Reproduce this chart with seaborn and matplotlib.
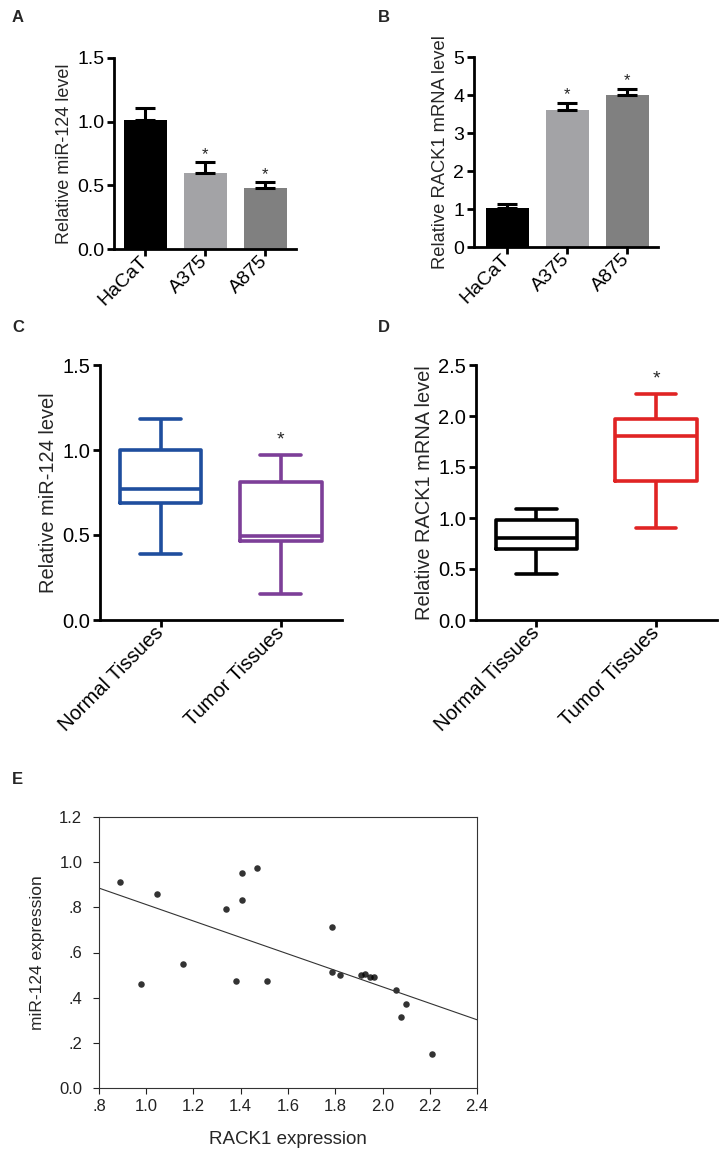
import matplotlib
matplotlib.use("Agg")
import matplotlib.pyplot as plt
import numpy as np
import pandas as pd
import seaborn as sns

# ---- data ----
cell_lines = ["HaCaT", "A375", "A875"]
bar_colors = ["#000000", "#a3a3a6", "#808080"]

mir124_cells = [1.01, 0.60, 0.48]
mir124_cells_err = [0.10, 0.08, 0.045]

rack1_cells = [1.03, 3.61, 4.01]
rack1_cells_err = [0.11, 0.19, 0.16]

tissues = ["Normal Tissues", "Tumor Tissues"]
# five-number summaries (min, Q1, median, Q3, max)
mir124_normal = [0.39, 0.686, 0.771, 1.0, 1.184]
mir124_tumor = [0.151, 0.467, 0.497, 0.814, 0.971]
rack1_normal = [0.451, 0.693, 0.80, 0.98, 1.085]
rack1_tumor = [0.899, 1.366, 1.804, 1.97, 2.216]

# scatter (tumor samples)
rack1_expr = [0.889, 0.977, 1.047, 1.157, 1.338, 1.379, 1.407, 1.407, 1.468, 1.509,
              1.787, 1.787, 1.818, 1.909, 1.928, 1.948, 1.962, 2.058, 2.078, 2.099, 2.21]
mir124_expr = [0.912, 0.462, 0.861, 0.551, 0.793, 0.472, 0.950, 0.831, 0.972, 0.472,
               0.711, 0.512, 0.501, 0.501, 0.503, 0.493, 0.493, 0.434, 0.314, 0.374, 0.15]

e_xticks = [0.8, 1.0, 1.2, 1.4, 1.6, 1.8, 2.0, 2.2, 2.4]
e_xticklabels = [".8", "1.0", "1.2", "1.4", "1.6", "1.8", "2.0", "2.2", "2.4"]
e_yticks = [0.0, 0.2, 0.4, 0.6, 0.8, 1.0, 1.2]
e_yticklabels = ["0.0", ".2", ".4", ".6", ".8", "1.0", "1.2"]

sns.set_style("ticks")
plt.rcParams["font.family"] = ["Liberation Sans", "DejaVu Sans"]

W, H = 719, 1155
fig = plt.figure(figsize=(W / 100, H / 100), dpi=100)


def box(l, t, r, b):
    return [l / W, 1 - b / H, (r - l) / W, (b - t) / H]


def prism_axes(ax, fs):
    sns.despine(ax=ax)
    for s in ["left", "bottom"]:
        ax.spines[s].set_linewidth(2.0)
        ax.spines[s].set_color("black")
    ax.tick_params(axis="both", width=2.0, length=5, labelsize=fs, colors="black", pad=2)
    for lab in ax.get_xticklabels():
        lab.set_rotation(45)
        lab.set_ha("right")
        lab.set_va("center")
        lab.set_rotation_mode("anchor")


def bar_panel(ax, vals, errs, ylim, yticks, fmt, ylabel, fs_lab, fs_tick):
    df = pd.DataFrame({"cell": cell_lines, "val": vals})
    sns.barplot(data=df, x="cell", y="val", hue="cell", palette=bar_colors,
                legend=False, width=0.72, linewidth=0, errorbar=None, ax=ax)
    pos = np.arange(len(cell_lines))
    ax.errorbar(pos, vals, yerr=[np.zeros(len(vals)), errs], fmt="none",
                ecolor="black", elinewidth=2.2, capsize=7, capthick=2.2, zorder=1)
    for i in (1, 2):
        ax.annotate("*", xy=(pos[i], vals[i] + errs[i]), xytext=(0, 0),
                    textcoords="offset points", ha="center", va="bottom", fontsize=12)
    ax.set_ylim(*ylim)
    ax.set_yticks(yticks)
    ax.set_yticklabels([fmt.format(v) for v in yticks])
    ax.set_xlim(-0.52, 2.51)
    ax.set_xlabel("")
    ax.set_ylabel(ylabel, fontsize=fs_lab, labelpad=3)
    prism_axes(ax, fs_tick)


def box_panel(ax, normal, tumor, colors, ylim, yticks, ylabel, fs_lab, fs_tick):
    df = pd.DataFrame({"group": [tissues[0]] * 5 + [tissues[1]] * 5,
                       "val": normal + tumor})
    sns.boxplot(data=df, x="group", y="val", hue="group", palette=colors,
                fill=False, whis=(0, 100), width=0.68, linewidth=2.6,
                legend=False, ax=ax)
    ax.annotate("*", xy=(1, max(tumor)), xytext=(0, 5), textcoords="offset points",
                ha="center", va="bottom", fontsize=14)
    ax.set_ylim(*ylim)
    ax.set_yticks(yticks)
    ax.set_yticklabels(["{:.1f}".format(v) for v in yticks])
    ax.set_xlim(-0.505, 1.51)
    ax.set_xlabel("")
    ax.set_ylabel(ylabel, fontsize=fs_lab, labelpad=3)
    prism_axes(ax, fs_tick)


# A
axA = fig.add_axes(box(114, 58, 296, 249))
bar_panel(axA, mir124_cells, mir124_cells_err, (0, 1.5), [0, 0.5, 1.0, 1.5], "{:.1f}",
          "Relative miR-124 level", 13, 14)

# B
axB = fig.add_axes(box(474, 57, 658, 247))
bar_panel(axB, rack1_cells, rack1_cells_err, (0, 5), [0, 1, 2, 3, 4, 5], "{:.0f}",
          "Relative RACK1 mRNA level", 13.2, 14)
axB.set_xlim(-0.555, 2.51)

# C
axC = fig.add_axes(box(100, 365, 342, 620))
box_panel(axC, mir124_normal, mir124_tumor, ["#1f4e9e", "#7d3f98"], (0, 1.5),
          [0, 0.5, 1.0, 1.5], "Relative miR-124 level", 14.4, 14.5)

# D
axD = fig.add_axes(box(476, 365, 717, 620))
box_panel(axD, rack1_normal, rack1_tumor, ["#000000", "#e02424"], (0, 2.5),
          [0, 0.5, 1.0, 1.5, 2.0, 2.5], "Relative RACK1 mRNA level", 14.4, 14.5)

# E
axE = fig.add_axes(box(99, 817, 477, 1088))
axE.set_xlim(0.8, 2.4)
axE.set_ylim(0, 1.2)
sns.regplot(x=rack1_expr, y=mir124_expr, ci=None, truncate=False, ax=axE,
            scatter_kws={"s": 22, "color": "black", "linewidths": 0},
            line_kws={"color": "#333333", "linewidth": 0.8})
axE.set_xlim(0.8, 2.4)
axE.set_ylim(0, 1.2)
axE.set_xticks(e_xticks)
axE.set_xticklabels(e_xticklabels)
axE.set_yticks(e_yticks)
axE.set_yticklabels(e_yticklabels)
for s in axE.spines.values():
    s.set_linewidth(0.8)
    s.set_color("#333333")
axE.tick_params(axis="both", length=4, width=0.8, labelsize=12, colors="#222222", pad=4)
axE.tick_params(axis="y", pad=8)
axE.set_xlabel("RACK1 expression", fontsize=13.5, labelpad=12)
axE.set_ylabel("miR-124 expression", fontsize=12.5, labelpad=10)

# panel letters
for letter, (px, py) in zip("ABCDE", [(12, 17), (378, 17), (12, 328), (378, 328), (12, 780)]):
    fig.text(px / W, 1 - py / H, letter, fontsize=12, fontweight="bold", ha="left", va="center")

fig.savefig("out.png", dpi=100)
